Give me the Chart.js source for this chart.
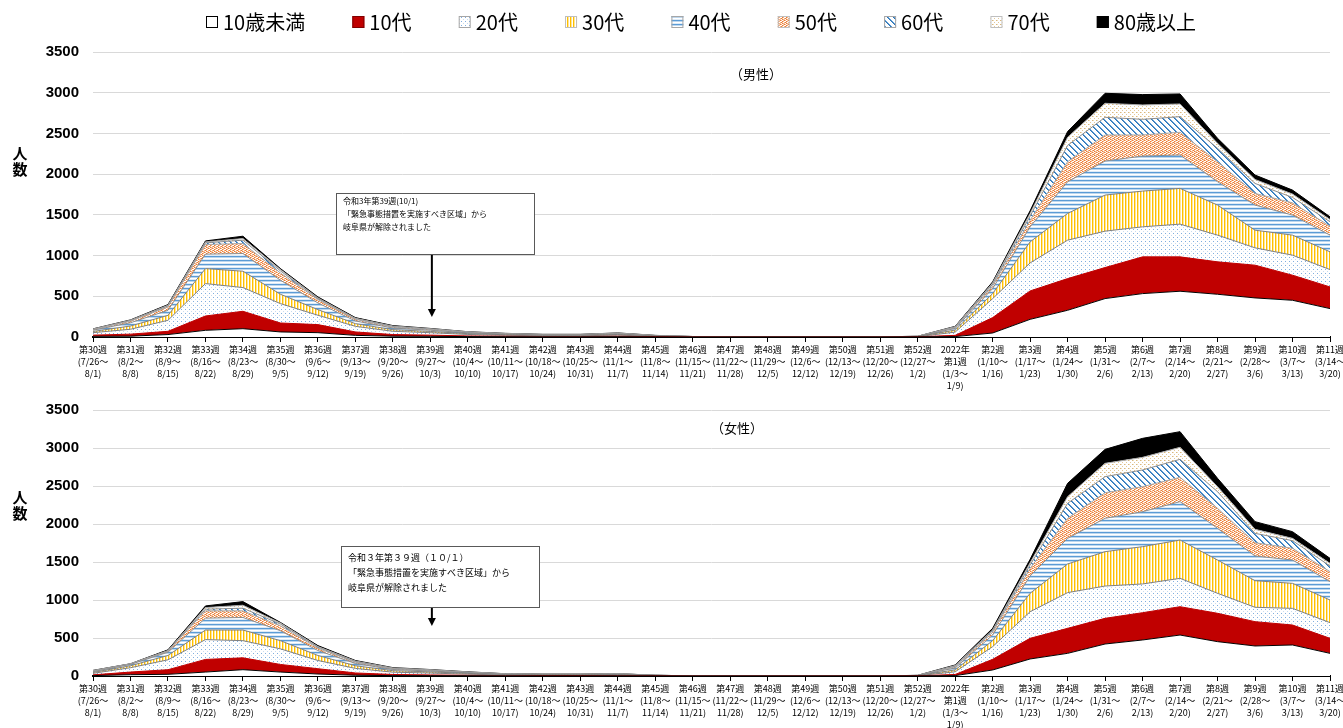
<!DOCTYPE html>
<html><head><meta charset="utf-8">
<script src="https://cdn.jsdelivr.net/npm/chart.js@4.4.0/dist/chart.umd.min.js"></script>
<style>
body{margin:0;background:#fff;width:1343px;height:728px;overflow:hidden;position:relative}
canvas{position:absolute;left:0}
</style></head><body>
<canvas id="cMale" width="1343" height="396" style="top:0"></canvas>
<canvas id="cFemale" width="1343" height="332" style="top:396px"></canvas>
<script>
// ---------- categories ----------
const weekNames = ['第30週','第31週','第32週','第33週','第34週','第35週','第36週','第37週','第38週','第39週','第40週','第41週','第42週','第43週','第44週','第45週','第46週','第47週','第48週','第49週','第50週','第51週','第52週','第1週','第2週','第3週','第4週','第5週','第6週','第7週','第8週','第9週','第10週','第11週'];
const rangeStarts = ['7/26','8/2','8/9','8/16','8/23','8/30','9/6','9/13','9/20','9/27','10/4','10/11','10/18','10/25','11/1','11/8','11/15','11/22','11/29','12/6','12/13','12/20','12/27','1/3','1/10','1/17','1/24','1/31','2/7','2/14','2/21','2/28','3/7','3/14'];
const rangeEnds = ['8/1','8/8','8/15','8/22','8/29','9/5','9/12','9/19','9/26','10/3','10/10','10/17','10/24','10/31','11/7','11/14','11/21','11/28','12/5','12/12','12/19','12/26','1/2','1/9','1/16','1/23','1/30','2/6','2/13','2/20','2/27','3/6','3/13','3/20'];
const yearMarkIndex = 23;
const yearMark = '2022年';
const ageGroups = ['10歳未満','10代','20代','30代','40代','50代','60代','70代','80歳以上'];
const yTicks = [0,500,1000,1500,2000,2500,3000,3500];

// ---------- male (男性) ----------
const maleU10 = [8,10,30,82,102,62,53,20,10,8,5,3,2,2,3,1,0,0,0,0,0,0,1,5,49,217,328,472,533,562,525,480,451,349];
const male10s = [15,25,40,176,214,110,99,42,20,15,8,6,4,4,6,3,1,0,0,0,0,0,1,15,189,349,389,381,451,422,398,402,308,266];
const male20s = [30,60,135,398,291,238,115,69,40,30,18,12,9,9,14,5,2,1,1,1,1,1,2,40,233,344,472,447,369,402,328,213,246,213];
const male30s = [15,40,61,184,201,115,69,33,20,15,10,7,5,5,8,3,1,1,0,0,0,1,2,25,62,258,328,443,439,439,369,217,246,218];
const male40s = [15,40,62,177,217,172,82,33,20,15,10,7,5,5,7,3,1,0,0,0,0,0,1,20,62,185,389,418,430,410,287,308,246,205];
const male50s = [8,20,41,119,123,90,41,20,12,10,6,4,3,3,5,2,1,0,0,0,0,0,1,10,32,82,247,320,259,279,246,143,151,110];
const male60s = [4,6,12,20,41,25,12,4,6,4,3,2,2,2,3,1,0,0,0,0,0,0,1,7,21,49,200,217,192,192,164,123,66,54];
const male70s = [3,5,9,12,20,16,9,9,6,4,3,2,2,2,2,1,0,0,0,0,0,0,0,5,16,33,100,172,177,156,61,49,41,28];
const male80p = [2,4,8,12,29,12,12,8,6,4,2,2,1,1,2,1,0,0,0,0,0,0,0,4,13,33,70,123,127,123,62,54,49,33];

// ---------- female (女性) ----------
const femaleU10 = [5,17,22,52,83,52,26,10,5,4,3,2,1,1,2,1,0,0,0,0,0,0,1,5,79,224,298,421,474,539,452,395,408,298];
const female10s = [10,35,61,166,156,100,70,30,15,10,6,3,3,3,4,1,0,0,0,0,0,0,1,15,140,272,329,338,359,373,373,320,263,198];
const female20s = [20,57,130,261,226,205,108,60,30,25,15,8,7,7,8,3,1,1,1,1,1,1,2,35,167,350,470,425,378,373,263,189,219,206];
const female30s = [12,26,57,126,140,108,66,35,20,15,10,5,4,4,5,2,1,0,0,0,0,0,2,25,79,242,377,452,491,504,438,350,329,298];
const female40s = [10,17,43,156,165,131,65,30,15,12,8,5,4,4,5,2,0,0,0,0,0,0,1,25,74,228,337,439,460,505,417,325,307,241];
const female50s = [7,5,13,96,87,65,30,15,10,8,5,3,2,2,3,1,0,0,0,0,0,0,1,15,36,101,264,337,329,320,263,175,154,132];
const female60s = [4,2,5,22,35,22,13,8,5,4,3,2,2,2,2,0,0,0,0,0,0,0,0,10,21,44,197,211,220,237,219,123,101,74];
const female70s = [3,1,4,21,39,13,9,8,5,4,3,1,1,1,1,0,0,0,0,0,0,0,0,8,9,30,88,175,166,158,66,53,30,35];
const female80p = [3,1,9,22,48,9,13,8,5,3,2,1,1,1,1,0,0,0,0,0,0,0,1,7,22,44,175,184,250,206,110,101,88,66];

const maleSeries = [maleU10,male10s,male20s,male30s,male40s,male50s,male60s,male70s,male80p];
const femaleSeries = [femaleU10,female10s,female20s,female30s,female40s,female50s,female60s,female70s,female80p];

// ---------- labels ----------
const categories = weekNames.map((w,i)=>{
  const lines = [];
  if (i === yearMarkIndex) lines.push(yearMark);
  lines.push(w);
  lines.push('(' + rangeStarts[i] + '～');
  lines.push(rangeEnds[i] + ')');
  return lines;
});

// ---------- patterns ----------
function makePattern(ctx,w,h,pixels){
  const c = document.createElement('canvas'); c.width=w; c.height=h;
  const x = c.getContext('2d');
  x.fillStyle='#ffffff'; x.fillRect(0,0,w,h);
  pixels.forEach(p=>{ x.fillStyle=p[2]; x.fillRect(p[0],p[1],1,1); });
  return ctx.createPattern(c,'repeat');
}
function diagPixels(){
  const px=[];
  for(let y=0;y<6;y++) for(let x=0;x<6;x++){ const d=((x-y)%6+6)%6; if(d===0) px.push([x,y,'#2e75b6']); else if(d===1) px.push([x,y,'#5b9bd5']); }
  return px;
}
function buildFills(ctx){
  return [
    '#ffffff',
    '#c00000',
    makePattern(ctx,4,4,[[1,1,'#7fadde'],[3,3,'#c6dbef']]),
    makePattern(ctx,3,1,[[0,0,'#ffc000'],[1,0,'#ffe699']]),
    makePattern(ctx,1,4,[[0,0,'#5b9bd5'],[0,1,'#bdd7ee'],[0,3,'#deebf7']]),
    makePattern(ctx,4,4,[[0,0,'#ed7d31'],[1,0,'#f4b183'],[3,0,'#f8cbad'],[2,1,'#ed7d31'],[3,1,'#f4b183'],[0,2,'#f4b183'],[1,2,'#ed7d31'],[2,2,'#f8cbad'],[2,3,'#ed7d31'],[3,3,'#f4b183'],[0,3,'#f8cbad']]),
    makePattern(ctx,6,6,diagPixels()),
    makePattern(ctx,4,4,[[0,0,'#d9b77e'],[1,0,'#efdcb8'],[2,2,'#e3c898']]),
    '#000000'
  ];
}
const lines = ['#000000','#c00000','#7f7f7f','#7f7f7f','#8c8c8c','#a6a6a6','#8c8c8c','#a6a6a6','#000000'];
const legendBorders = ['#000000','#7f0000','#a6a6a6','#bfbfbf','#a6a6a6','#bfbfbf','#a6a6a6','#bfbfbf','#000000'];

function buildDatasets(series, ctx){
  const fills = buildFills(ctx);
  return series.map((vals,i)=>({
    label: ageGroups[i],
    data: vals,
    backgroundColor: fills[i],
    borderColor: lines[i],
    borderWidth: 1,
    pointRadius: 0,
    tension: 0,
    fill: i===0 ? 'origin' : '-1'
  }));
}

function overlay(cfg){
  return {
    id: 'overlay_' + cfg.key,
    afterDraw(chart){
      const ctx = chart.ctx;
      ctx.save();
      ctx.fillStyle = '#000';
      ctx.font = 'bold 15px "Noto Sans CJK JP"';
      ctx.textAlign = 'center'; ctx.textBaseline = 'middle';
      ctx.fillText('人', 20, cfg.titleY);
      ctx.fillText('数', 20, cfg.titleY + 16);
      ctx.font = '13px "Noto Sans CJK JP"';
      ctx.fillText(cfg.subtitle, cfg.subX, cfg.subY);
      const b = cfg.box;
      ctx.fillStyle = '#ffffff';
      ctx.fillRect(b.x, b.y, b.w, b.h);
      ctx.strokeStyle = '#595959'; ctx.lineWidth = 1;
      ctx.strokeRect(b.x + 0.5, b.y + 0.5, b.w, b.h);
      ctx.fillStyle = '#000'; ctx.textAlign = 'left'; ctx.textBaseline = 'middle';
      ctx.font = cfg.noteFont;
      cfg.note.forEach((t,k)=> ctx.fillText(t, b.x + 7, b.y + cfg.noteTop + k*cfg.noteStep));
      const ax = chart.scales.x.getPixelForValue(9) + 1.5;
      ctx.strokeStyle = '#000'; ctx.lineWidth = 2;
      ctx.beginPath(); ctx.moveTo(ax, b.y + b.h + 1); ctx.lineTo(ax, cfg.arrowTip - 7); ctx.stroke();
      ctx.fillStyle = '#000';
      ctx.beginPath(); ctx.moveTo(ax - 4, cfg.arrowTip - 8); ctx.lineTo(ax + 4, cfg.arrowTip - 8); ctx.lineTo(ax, cfg.arrowTip); ctx.closePath(); ctx.fill();
      if (cfg.legend){
        ctx.font = '20px "Noto Sans CJK JP"';
        const ds = chart.data.datasets;
        const widths = ds.map(d => 12 + 5 + ctx.measureText(d.label).width);
        const total = widths.reduce((a,c)=>a+c,0);
        const gap = (1196 - 206 - total)/(widths.length - 1);
        let x = 206;
        ds.forEach((d,i)=>{
          ctx.fillStyle = d.backgroundColor;
          ctx.fillRect(x, 16, 12, 12);
          ctx.strokeStyle = legendBorders[i]; ctx.lineWidth = 1;
          ctx.strokeRect(x + 0.5, 16.5, 11, 11);
          ctx.fillStyle = '#000'; ctx.textAlign='left'; ctx.textBaseline='middle';
          ctx.fillText(d.label, x + 17, 22);
          x += widths[i] + gap;
        });
      }
      ctx.restore();
    }
  };
}

function makeChart(id, series, cfg){
  const canvas = document.getElementById(id);
  const ctx = canvas.getContext('2d');
  return new Chart(canvas, {
    type: 'line',
    data: { labels: categories, datasets: buildDatasets(series, ctx) },
    options: {
      responsive: false,
      animation: false,
      layout: { padding: { top: cfg.padTop, right: 13, left: 0, bottom: 0 } },
      plugins: { legend: { display: false }, tooltip: { enabled: false } },
      elements: { line: { tension: 0 } },
      scales: {
        x: {
          offset: false,
          grid: { drawOnChartArea: false, drawTicks: true, tickLength: 5, color: '#000', lineWidth: 1 },
          border: { display: true, color: '#000', width: 2 },
          ticks: { autoSkip: false, maxRotation: 0, minRotation: 0, padding: 2, color: '#000',
                   font: { family: '"Noto Sans CJK JP"', size: 9, lineHeight: 1.33 } },
          afterFit(s){ s.height = cfg.xHeight; s.paddingLeft = 0; s.paddingRight = 0; }
        },
        y: {
          stacked: true,
          min: 0, max: 3500,
          afterBuildTicks(s){ s.ticks = yTicks.map(v=>({value:v})); },
          grid: { color: '#d9d9d9', lineWidth: 1, drawTicks: false },
          border: { display: false },
          ticks: { padding: 14, color: '#000', callback: v => String(v),
                   font: { family: '"Liberation Sans"', size: 15, weight: 'bold' } },
          afterFit(s){ s.width = 93; s.paddingTop = 0; s.paddingBottom = 0; }
        }
      }
    },
    plugins: [overlay(cfg)]
  });
}

makeChart('cMale', maleSeries, {
  key: 'male', padTop: 52, xHeight: 59, legend: true,
  titleY: 153, subtitle: '（男性）', subX: 756, subY: 74,
  box: { x: 336, y: 193, w: 198, h: 61 },
  note: ['令和3年第39週(10/1)', '「緊急事態措置を実施すべき区域」から', '岐阜県が解除されました'],
  noteFont: '8px "Noto Sans CJK JP"', noteTop: 8, noteStep: 13,
  arrowTip: 317
});
makeChart('cFemale', femaleSeries, {
  key: 'female', padTop: 14, xHeight: 52, legend: false,
  titleY: 101, subtitle: '（女性）', subX: 737, subY: 32,
  box: { x: 341, y: 150, w: 198, h: 61 },
  note: ['令和３年第３９週（１０/１）', '「緊急事態措置を実施すべき区域」から', '岐阜県が解除されました'],
  noteFont: '9px "Noto Sans CJK JP"', noteTop: 12, noteStep: 15,
  arrowTip: 230
});
</script>
</body></html>
